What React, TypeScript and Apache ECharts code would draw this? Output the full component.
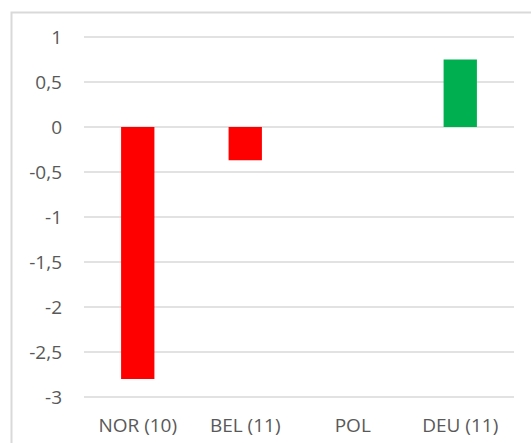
import React, { useEffect, useRef } from "react";
import * as echarts from "echarts";

const categories = ["NOR (10)", "BEL (11)", "POL", "DEU (11)"];
const values = [-2.8, -0.37, 0, 0.75];
const barColors = ["#FF0000", "#FF0000", "#FF0000", "#00B050"];
const yMin = -3;
const yMax = 1;
const yInterval = 0.5;

export default function App() {
  const ref = useRef<HTMLDivElement>(null);
  useEffect(() => {
    if (!ref.current) return;
    const chart = echarts.init(ref.current, null, { renderer: "svg" });
    const font = "'Open Sans', sans-serif";
    chart.setOption({
      animation: false,
      backgroundColor: "#ffffff",
      grid: { left: 84, right: 17, top: 37, bottom: 46 },
      xAxis: {
        type: "category",
        data: categories,
        axisLine: { show: false },
        axisTick: { show: false },
        axisLabel: { color: "#595959", fontSize: 19, fontFamily: font, margin: 18 },
      },
      yAxis: {
        type: "value",
        min: yMin,
        max: yMax,
        interval: yInterval,
        axisLine: { show: false },
        axisTick: { show: false },
        splitLine: { lineStyle: { color: "#D9D9D9", width: 1.5 } },
        axisLabel: {
          color: "#595959",
          fontSize: 19,
          fontFamily: font,
          margin: 22,
          formatter: (v: number) => String(v).replace(".", ","),
        },
      },
      graphic: [
        {
          type: "polyline",
          shape: { points: [[11.5, 443], [11.5, 12.5], [531, 12.5]] },
          style: { stroke: "#D9D9D9", lineWidth: 2, fill: null },
          silent: true,
        },
      ],
      series: [
        {
          type: "bar",
          barWidth: "31%",
          data: values.map((v, i) => ({ value: v, itemStyle: { color: barColors[i] } })),
        },
      ],
    });
    return () => chart.dispose();
  }, []);
  return (
    <div
      ref={ref}
      style={{ position: "absolute", left: 0, top: 0, width: 531, height: 443 }}
    />
  );
}
